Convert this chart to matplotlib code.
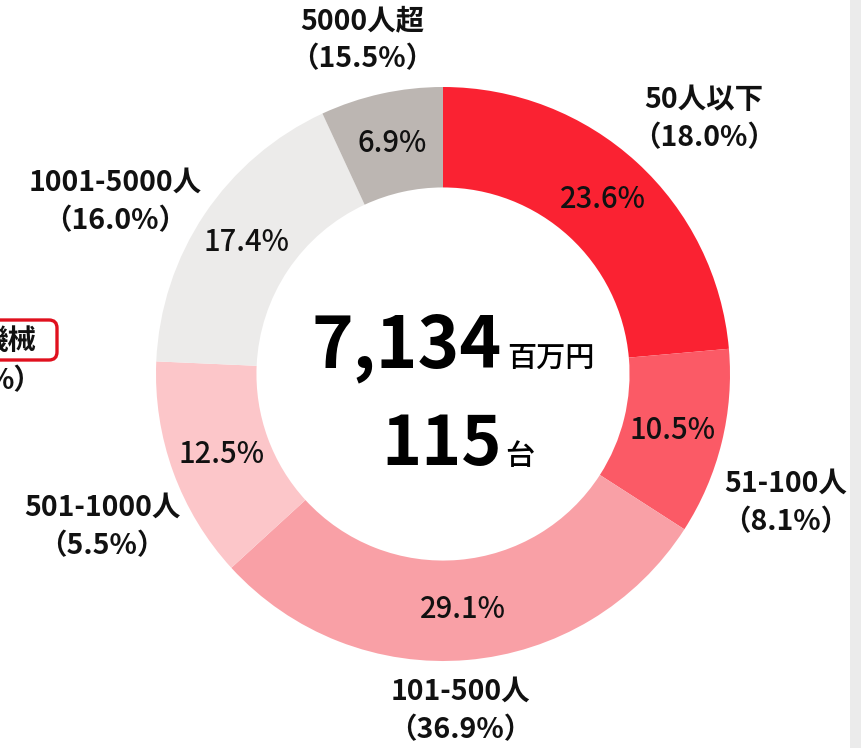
import matplotlib
matplotlib.use("Agg")
import matplotlib.pyplot as plt
import numpy as np
from matplotlib.patches import FancyBboxPatch, Rectangle

plt.rcParams['font.family'] = ['Noto Sans CJK JP', 'DejaVu Sans']

# data
categories = ['50人以下', '51-100人', '101-500人', '501-1000人', '1001-5000人', '5000人超']
shares = [23.6, 10.5, 29.1, 12.5, 17.4, 6.9]
ref_shares = [18.0, 8.1, 36.9, 5.5, 16.0, 15.5]
colors = ['#fa2232', '#fb5a66', '#f9a0a6', '#fcc6c9', '#ecebea', '#bcb6b2']
total_amount = '7,134'
amount_unit = '百万円'
total_units = '115'
units_unit = '台'

W, H = 861, 748
CX, CY, R = 443, 374, 287


def px(x, y):
    # pixel position -> data coords (pie radius = 1)
    return (x - CX) / R, (CY - y) / R


fig = plt.figure(figsize=(W / 100, H / 100), dpi=100)
ax = fig.add_axes([0, 0, 1, 1])

wedges, _ = ax.pie(shares, colors=colors, startangle=90, counterclock=False,
                   radius=1.0, wedgeprops=dict(width=0.35, linewidth=0))

# percentages inside the ring
start = 90.0
for s in shares:
    mid = np.deg2rad(start - s * 3.6 / 2)
    ax.text(0.823 * np.cos(mid), 0.823 * np.sin(mid), f'{s:.1f}%',
            ha='center', va='center', fontsize=21, fontweight='medium',
            color='#111111')
    start -= s * 3.6

# outer labels (category + reference share)
label_px = [(704, 119), (786, 503), (460, 711), (102, 527), (115, 202), (362, 40)]
for cat, ref, (lx, ly) in zip(categories, ref_shares, label_px):
    x, y = px(lx, ly)
    ax.text(x, y, f'{cat}\n（{ref:.1f}%）', ha='center', va='center',
            fontsize=20.5, fontweight='bold', linespacing=1.45, color='#111111')

# center totals
x, y = px(502, 367)
ax.text(x, y, total_amount, ha='right', va='baseline', fontsize=51,
        fontweight='bold', color='black')
x, y = px(507, 367)
ax.text(x, y, amount_unit, ha='left', va='baseline', fontsize=21,
        fontweight='medium', color='black')
x, y = px(502, 465)
ax.text(x, y, total_units, ha='right', va='baseline', fontsize=49,
        fontweight='bold', color='black')
x, y = px(505, 465)
ax.text(x, y, units_unit, ha='left', va='baseline', fontsize=21,
        fontweight='medium', color='black')

# neighbouring (cropped) label on the left edge
bx, by = px(-20, 360)
box = FancyBboxPatch((bx, by), 77 / R, 40 / R,
                     boxstyle='round,pad=0,rounding_size=0.028',
                     fill=False, edgecolor='#e0101e', linewidth=2.4)
ax.add_patch(box)
x, y = px(36, 341)
ax.text(x, y, '機械', ha='right', va='center', fontsize=20.5,
        fontweight='bold', color='#111111')
x, y = px(42, 381)
ax.text(x, y, '%）', ha='right', va='center', fontsize=20.5,
        fontweight='bold', color='#111111')

ax.set_xlim(-CX / R, (W - CX) / R)
ax.set_ylim(-(H - CY) / R, CY / R)
ax.set_aspect('auto')
ax.axis('off')

# grey strip at the right edge
fig.patches.append(Rectangle((850 / W, 0), 11 / W, 1, transform=fig.transFigure,
                             facecolor='#ebebeb', edgecolor='none'))

fig.savefig('out.png', dpi=100)
